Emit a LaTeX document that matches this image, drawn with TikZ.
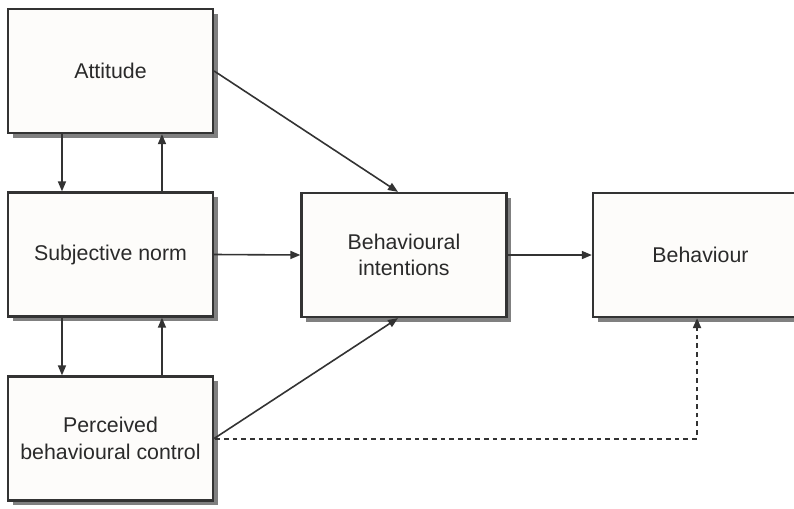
\documentclass[tikz,border=0pt]{standalone}
\usepackage{fontspec}
\setmainfont{Liberation Sans}
\usetikzlibrary{shadows,arrows.meta,calc}
\definecolor{ln}{HTML}{333333}
\definecolor{txt}{HTML}{2A2A2A}
\definecolor{boxfill}{HTML}{FDFCFA}
\definecolor{shade}{HTML}{808080}
\begin{document}
\begin{tikzpicture}[x=0.75pt,y=-0.75pt,
  box/.style={draw=ln, line width=1.7pt, fill=boxfill, minimum width=153.75pt,
    minimum height=93pt, align=center, inner sep=0pt,
    font=\fontsize{16}{20}\selectfont, text=txt,
    drop shadow={shadow xshift=3.5pt, shadow yshift=-3.5pt, fill=shade, opacity=1}},
  arr/.style={draw=ln, line width=1.2pt, -{Triangle[length=7.5pt,width=6pt]}},
  darr/.style={arr, dash pattern=on 3.5pt off 3pt, line width=1.5pt},
]
\path[use as bounding box] (0,0) rectangle (794,508);
\clip (0,0) rectangle (794,508);
\node[box] (att) at (110.5,71) {Attitude};
\node[box] (sn) at (110.5,254.5) {Subjective norm};
\node[box] (pbc) at (110.5,438.5) {Perceived\\behavioural control};
\node[box] (bi) at (404,255) {Behavioural\\intentions};
\node[box, minimum width=161.25pt] (beh) at (700.5,255) {Behaviour};
% vertical arrows
\draw[arr] ([xshift=-36.4pt]att.south) -- ([xshift=-36.4pt]sn.north);
\draw[arr] ([xshift=38.6pt]sn.north) -- ([xshift=38.6pt]att.south);
\draw[arr] ([xshift=-36.4pt]sn.south) -- ([xshift=-36.4pt]pbc.north);
\draw[arr] ([xshift=38.6pt]pbc.north) -- ([xshift=38.6pt]sn.south);
% to intentions
\draw[arr] (att.east) -- ([xshift=-4.5pt]bi.north);
\draw[arr] (sn.east) -- (bi.west);
\draw[arr] (pbc.east) -- ([xshift=-4.5pt]bi.south);
\draw[arr] (bi.east) -- (beh.west);
% dashed
\draw[darr] ([xshift=1pt]pbc.east) -| ([xshift=-2.6pt]beh.south);
\end{tikzpicture}
\end{document}
